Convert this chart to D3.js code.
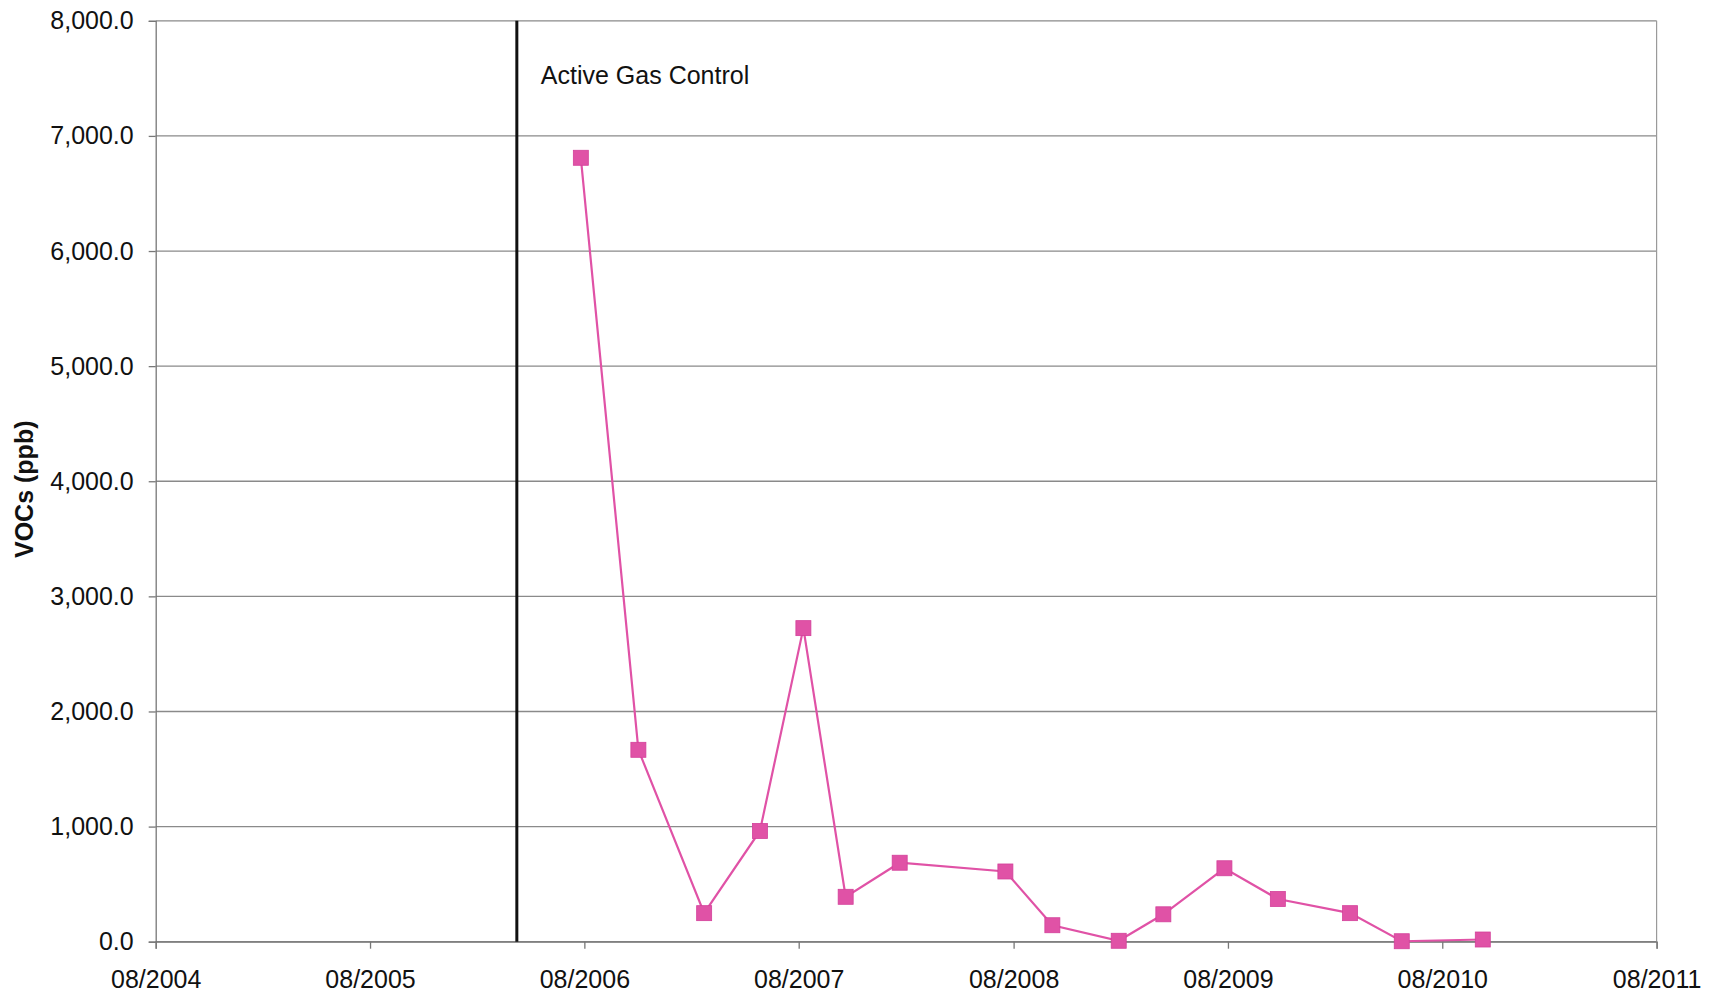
<!DOCTYPE html>
<html>
<head>
<meta charset="utf-8">
<script src="https://cdn.jsdelivr.net/npm/d3@7"></script>
<style>
  html, body { margin: 0; padding: 0; background: #fff; }
  svg { display: block; }
  text { font-family: "Liberation Sans", Arial, sans-serif; fill: #111; }
</style>
</head>
<body>
<svg id="chart" width="1719" height="1001"></svg>
<script>
// ---- data ----
const sampleDates = ["2006-07-26","2006-11-01","2007-02-21","2007-05-27","2007-08-09","2007-10-20",
  "2008-01-20","2008-07-18","2008-10-06","2009-01-27","2009-04-13","2009-07-26",
  "2009-10-25","2010-02-25","2010-05-24","2010-10-09"];
const vocValues = [6810, 1667, 248, 962, 2724, 390, 686, 610, 143, 8, 238, 638, 371, 248, 4, 19];
const yTickValues = [0, 1000, 2000, 3000, 4000, 5000, 6000, 7000, 8000];
const xTickLabels = ["08/2004","08/2005","08/2006","08/2007","08/2008","08/2009","08/2010","08/2011"];
const eventDate = "2006-04-08";
const eventLabel = "Active Gas Control";
const yTitle = "VOCs (ppb)";

// ---- layout ----
const W = 1719, H = 1001;
const L = 155.7, R = 1656.6, T = 20.8, B = 941.7;
const parse = d3.timeParse("%Y-%m-%d");
const parseTick = d3.timeParse("%m/%Y");
const fmtTick = d3.timeFormat("%m/%Y");

const svg = d3.select("#chart");
svg.append("rect").attr("width", W).attr("height", H).attr("fill", "#fff");

const x = d3.scaleTime()
  .domain([parseTick(xTickLabels[0]), parseTick(xTickLabels[xTickLabels.length - 1])])
  .range([L, R]);
const y = d3.scaleLinear().domain([0, 8000]).range([B, T]);

// gridlines
svg.append("g").selectAll("line").data(yTickValues).join("line")
  .attr("x1", L).attr("x2", R)
  .attr("y1", d => y(d)).attr("y2", d => y(d))
  .attr("stroke", "#8a8a8a").attr("stroke-width", 1.3);

// right border
svg.append("line").attr("x1", R).attr("x2", R).attr("y1", T).attr("y2", B)
  .attr("stroke", "#9a9a9a").attr("stroke-width", 1.2);

// y axis
const yAxis = svg.append("g").attr("transform", `translate(${L},0)`)
  .call(d3.axisLeft(y).tickValues(yTickValues).tickFormat(d3.format(",.1f")).tickSize(7).tickPadding(15));
yAxis.select(".domain").attr("stroke", "#777").attr("stroke-width", 1.3);
yAxis.selectAll(".tick line").attr("stroke", "#777").attr("stroke-width", 1.3);
yAxis.selectAll("text").attr("font-size", 25).attr("font-family", "Liberation Sans, Arial, sans-serif").attr("fill", "#111");

// x axis
const xAxis = svg.append("g").attr("transform", `translate(0,${B})`)
  .call(d3.axisBottom(x).tickValues(xTickLabels.map(parseTick)).tickFormat(fmtTick).tickSize(7).tickPadding(22));
xAxis.select(".domain").attr("stroke", "#777").attr("stroke-width", 1.3);
xAxis.selectAll(".tick line").attr("stroke", "#777").attr("stroke-width", 1.3);
xAxis.selectAll("text").attr("font-size", 25).attr("font-family", "Liberation Sans, Arial, sans-serif").attr("fill", "#111");

// event line
svg.append("line")
  .attr("x1", x(parse(eventDate))).attr("x2", x(parse(eventDate)))
  .attr("y1", T).attr("y2", B)
  .attr("stroke", "#111").attr("stroke-width", 3);
svg.append("text")
  .attr("x", x(parse(eventDate)) + 24).attr("y", 84)
  .attr("font-size", 25).text(eventLabel);

// y title
svg.append("text")
  .attr("transform", `translate(33,${(T + B) / 2 + 8}) rotate(-90)`)
  .attr("text-anchor", "middle")
  .attr("font-size", 25).attr("font-weight", "bold")
  .text(yTitle);

// series
const data = sampleDates.map((d, i) => ({ date: parse(d), value: vocValues[i] }));
const color = "#e052a6";
svg.append("path").datum(data)
  .attr("fill", "none").attr("stroke", color).attr("stroke-width", 2.2)
  .attr("d", d3.line().x(d => x(d.date)).y(d => y(d.value)));
const ms = 15;
svg.append("g").selectAll("rect").data(data).join("rect")
  .attr("x", d => x(d.date) - ms / 2).attr("y", d => y(d.value) - ms / 2)
  .attr("width", ms).attr("height", ms)
  .attr("fill", color).attr("stroke", "#d3409a").attr("stroke-width", 0.8);
</script>
</body>
</html>
